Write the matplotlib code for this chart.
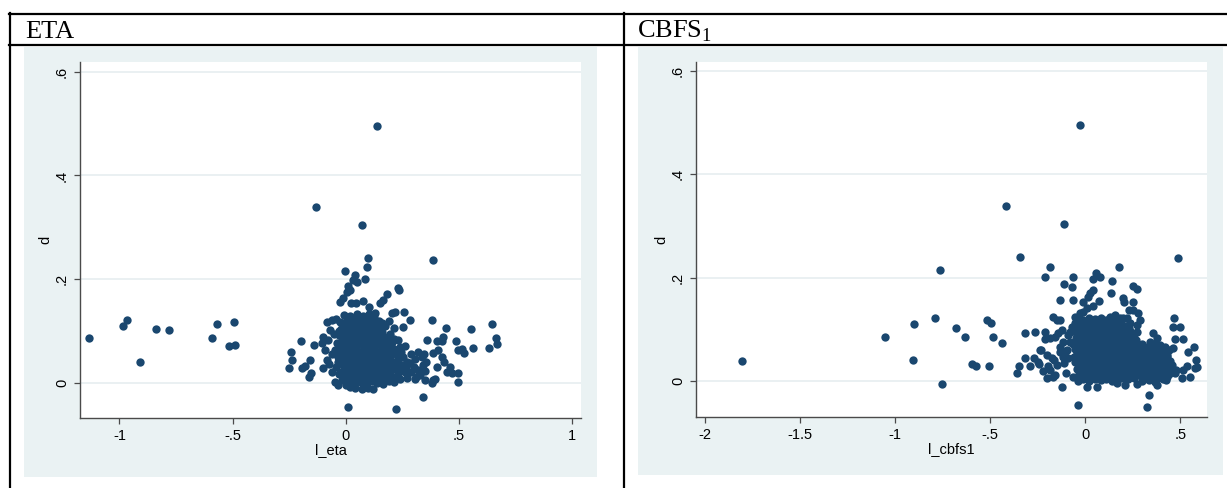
import numpy as np
import matplotlib
matplotlib.use("Agg")
import matplotlib.pyplot as plt
from matplotlib.lines import Line2D
from matplotlib.patches import Rectangle

# ---- data: (x, d) pairs ----
eta_far = [(-1.133, 0.086), (-0.982, 0.110), (-0.967, 0.121), (-0.911, 0.040),
           (-0.839, 0.104), (-0.783, 0.102), (-0.593, 0.086), (-0.567, 0.113),
           (-0.492, 0.118), (-0.518, 0.070), (-0.490, 0.072)]

eta_spread = [(0.137, 0.496), (-0.130, 0.340), (0.072, 0.304), (0.099, 0.240),
              (0.387, 0.237), (0.095, 0.223), (-0.004, 0.215), (0.041, 0.208),
              (0.051, 0.195), (0.033, 0.199), (0.083, 0.201), (0.011, 0.187),
              (0.019, 0.179), (0.004, 0.176), (-0.011, 0.163), (-0.026, 0.156),
              (0.023, 0.153), (0.045, 0.153), (0.077, 0.158), (0.104, 0.147),
              (0.129, 0.134), (0.166, 0.160), (0.183, 0.171), (0.151, 0.153),
              (0.217, 0.137), (0.203, 0.134), (0.229, 0.182), (0.235, 0.179),
              (0.257, 0.137), (0.284, 0.121), (0.251, 0.108), (0.213, 0.105),
              (0.381, 0.121), (0.443, 0.106), (0.552, 0.104), (0.646, 0.114),
              (0.663, 0.086), (0.666, 0.075), (0.634, 0.067), (0.563, 0.067),
              (0.522, 0.057), (0.512, 0.066), (0.494, 0.064), (0.487, 0.080),
              (0.431, 0.089), (0.424, 0.081), (0.401, 0.080), (0.357, 0.082),
              (0.409, 0.063), (0.384, 0.057), (0.424, 0.050), (0.434, 0.041),
              (0.401, 0.031), (0.460, 0.031), (0.446, 0.021), (0.468, 0.018),
              (0.497, 0.018), (0.497, 0.002), (0.394, 0.008), (0.379, -0.001),
              (0.387, 0.005), (0.342, -0.027), (0.222, -0.051), (0.011, -0.046),
              (0.306, 0.008), (0.350, 0.005), (0.239, 0.008), (0.269, 0.010),
              (0.254, 0.050), (0.269, 0.041), (0.247, 0.034), (0.232, 0.082),
              (0.239, 0.069), (0.210, 0.063),
              (-0.084, 0.118), (-0.062, 0.121), (-0.043, 0.124), (-0.070, 0.101),
              (-0.052, 0.095), (-0.199, 0.081), (-0.243, 0.060), (-0.239, 0.044),
              (-0.250, 0.028), (-0.140, 0.073), (-0.106, 0.076), (-0.099, 0.088),
              (-0.077, 0.082), (-0.158, 0.044), (-0.180, 0.032), (-0.195, 0.028),
              (-0.155, 0.018), (-0.161, 0.012), (-0.092, 0.063), (-0.084, 0.044),
              (-0.099, 0.028), (-0.048, 0.063), (-0.033, 0.050), (-0.040, 0.076),
              (-0.048, 0.002), (-0.033, -0.004), (-0.076, 0.037), (-0.060, 0.020),
              (-0.045, 0.030), (-0.062, 0.055),
              (0.290, 0.055), (0.305, 0.045), (0.320, 0.060), (0.335, 0.050),
              (0.300, 0.030), (0.318, 0.025), (0.340, 0.035), (0.355, 0.040),
              (0.290, 0.020), (0.330, 0.015), (0.350, 0.022), (0.285, 0.038),
              (0.310, 0.012), (0.345, 0.055),
              (0.150, 0.100), (0.165, 0.090), (0.180, 0.080), (0.195, 0.095),
              (0.160, 0.070), (0.175, 0.060), (0.190, 0.050), (0.205, 0.040),
              (0.220, 0.030), (0.235, 0.020), (0.150, 0.050), (0.165, 0.040),
              (0.180, 0.030), (0.195, 0.020), (0.210, 0.012), (0.150, 0.030),
              (0.165, 0.018), (0.180, 0.010), (0.150, 0.010), (0.200, 0.075),
              (0.215, 0.085), (0.225, 0.055), (0.250, 0.025), (0.265, 0.030),
              (0.145, 0.120), (0.160, 0.115), (0.175, 0.110), (0.190, 0.120),
              (0.150, 0.085), (0.140, 0.000), (0.165, -0.002), (0.120, -0.012),
              (0.100, -0.010), (0.070, -0.012), (0.040, -0.010), (0.020, -0.008),
              (0.000, -0.005), (-0.015, 0.005), (0.230, 0.045), (0.245, 0.060),
              (0.260, 0.070)]

eta_core = [(-0.010, 0.131), (0.020, 0.128), (0.048, 0.133), (0.076, 0.129), (0.101, 0.132), (0.124, 0.127),
            (-0.024, 0.117), (0.006, 0.120), (0.031, 0.116), (0.058, 0.119), (0.086, 0.121), (0.110, 0.115), (0.134, 0.118),
            (-0.019, 0.104), (0.011, 0.108), (0.039, 0.105), (0.066, 0.107), (0.091, 0.103), (0.117, 0.108), (0.141, 0.104),
            (-0.028, 0.093), (0.001, 0.096), (0.024, 0.092), (0.051, 0.095), (0.079, 0.097), (0.104, 0.091), (0.129, 0.095),
            (-0.017, 0.083), (0.013, 0.080), (0.037, 0.084), (0.063, 0.081), (0.092, 0.085), (0.117, 0.079), (0.143, 0.083),
            (-0.029, 0.069), (-0.002, 0.072), (0.022, 0.068), (0.047, 0.071), (0.074, 0.073), (0.101, 0.067), (0.127, 0.070),
            (-0.019, 0.059), (0.008, 0.056), (0.034, 0.060), (0.061, 0.057), (0.087, 0.059), (0.112, 0.055), (0.138, 0.058),
            (-0.024, 0.045), (0.003, 0.048), (0.027, 0.044), (0.053, 0.047), (0.080, 0.049), (0.106, 0.043), (0.131, 0.046),
            (-0.014, 0.035), (0.016, 0.032), (0.041, 0.036), (0.066, 0.033), (0.094, 0.035), (0.121, 0.031), (0.146, 0.034),
            (-0.021, 0.021), (0.004, 0.024), (0.029, 0.020), (0.057, 0.023), (0.083, 0.025), (0.109, 0.019), (0.134, 0.022),
            (-0.009, 0.011), (0.018, 0.008), (0.044, 0.012), (0.071, 0.009), (0.097, 0.011), (0.126, 0.007),
            (0.010, 0.001), (0.036, -0.002), (0.061, 0.002), (0.089, -0.001), (0.114, 0.003)]

eta_fill = [(0.005, 0.124), (0.034, 0.123), (0.062, 0.125), (0.089, 0.122), (0.113, 0.124),
            (-0.008, 0.111), (0.019, 0.113), (0.045, 0.110), (0.072, 0.112), (0.098, 0.114), (0.122, 0.110), (0.150, 0.108),
            (-0.032, 0.100), (-0.004, 0.099), (0.025, 0.101), (0.052, 0.098), (0.078, 0.100), (0.104, 0.102), (0.130, 0.099), (0.158, 0.097),
            (-0.006, 0.088), (0.019, 0.087), (0.044, 0.090), (0.071, 0.088), (0.098, 0.086), (0.122, 0.089), (0.160, 0.088), (0.185, 0.087),
            (-0.015, 0.076), (0.009, 0.077), (0.035, 0.075), (0.061, 0.078), (0.088, 0.076), (0.114, 0.074), (0.140, 0.076), (0.170, 0.074), (0.205, 0.078),
            (-0.035, 0.064), (-0.008, 0.063), (0.020, 0.065), (0.047, 0.062), (0.074, 0.064), (0.100, 0.066), (0.125, 0.063), (0.155, 0.062), (0.185, 0.065), (0.215, 0.066),
            (-0.010, 0.052), (0.016, 0.051), (0.041, 0.053), (0.068, 0.052), (0.094, 0.050), (0.119, 0.053), (0.145, 0.052), (0.170, 0.050), (0.200, 0.053), (0.240, 0.052),
            (-0.033, 0.040), (-0.006, 0.039), (0.022, 0.041), (0.048, 0.040), (0.073, 0.038), (0.099, 0.041), (0.125, 0.040), (0.158, 0.041), (0.188, 0.039), (0.218, 0.040),
            (-0.005, 0.028), (0.023, 0.027), (0.049, 0.029), (0.075, 0.028), (0.102, 0.026), (0.128, 0.029), (0.155, 0.028), (0.172, 0.024), (0.205, 0.027), (0.228, 0.024), (0.262, 0.020),
            (-0.028, 0.016), (0.004, 0.015), (0.033, 0.017), (0.061, 0.016), (0.089, 0.014), (0.116, 0.017), (0.142, 0.016), (0.172, 0.015), (0.198, 0.014), (0.225, 0.012),
            (-0.002, 0.005), (0.027, 0.004), (0.054, 0.006), (0.080, 0.004), (0.105, 0.006), (0.132, 0.004), (0.158, 0.006), (0.190, 0.003), (0.215, 0.002)]

cbfs_far = [(-1.808, 0.039), (-1.051, 0.086), (-0.900, 0.110), (-0.908, 0.041),
            (-0.788, 0.121), (-0.765, 0.215), (-0.753, -0.005), (-0.682, 0.103),
            (-0.635, 0.086), (-0.594, 0.032), (-0.574, 0.028), (-0.515, 0.118),
            (-0.498, 0.113), (-0.486, 0.085), (-0.507, 0.029), (-0.437, 0.073),
            (-0.417, 0.339)]

cbfs_spread = [(-0.112, 0.304), (-0.028, 0.495), (-0.344, 0.239), (0.488, 0.237),
               (-0.187, 0.221), (-0.211, 0.202), (0.176, 0.221), (-0.066, 0.202),
               (-0.113, 0.187), (-0.071, 0.181), (0.057, 0.208), (0.078, 0.202),
               (0.039, 0.197), (0.143, 0.194), (0.253, 0.184), (0.271, 0.177),
               (0.039, 0.175), (0.025, 0.170), (0.013, 0.163), (0.134, 0.170),
               (-0.133, 0.157), (-0.063, 0.157), (-0.010, 0.152), (0.074, 0.154),
               (0.197, 0.160), (0.204, 0.152), (0.250, 0.153), (0.043, 0.145),
               (0.008, 0.141), (0.232, 0.137), (0.250, 0.137), (0.280, 0.131),
               (-0.027, 0.131), (-0.054, 0.124), (-0.010, 0.134), (-0.168, 0.124),
               (-0.150, 0.118), (-0.133, 0.118), (0.288, 0.118), (0.271, 0.108),
               (0.271, 0.095), (0.157, 0.128), (0.131, 0.124), (0.183, 0.121),
               (0.222, 0.121), (0.236, 0.112), (0.209, 0.105), (0.467, 0.121),
               (0.460, 0.105), (0.499, 0.105), (-0.212, 0.095), (-0.212, 0.081),
               (-0.185, 0.083), (-0.159, 0.085), (-0.141, 0.092), (-0.124, 0.099),
               (-0.080, 0.095), (-0.071, 0.105), (-0.054, 0.112), (-0.036, 0.115),
               (-0.115, 0.076), (-0.097, 0.060), (-0.133, 0.057), (-0.118, 0.047),
               (-0.238, 0.060), (-0.203, 0.050), (-0.176, 0.044), (-0.164, 0.041),
               (-0.194, 0.028), (-0.159, 0.012), (-0.185, 0.021), (-0.124, -0.011),
               (-0.036, -0.046), (0.337, -0.027), (0.327, -0.050), (0.358, 0.092),
               (0.376, 0.083), (0.341, 0.076), (0.464, 0.063), (0.473, 0.081),
               (0.513, 0.081), (0.539, 0.057), (0.574, 0.065), (0.583, 0.041),
               (0.590, 0.027), (0.534, 0.028), (0.516, 0.021), (0.552, 0.008),
               (0.578, 0.025), (0.508, 0.005), (0.478, 0.021), (0.420, 0.063),
               (0.429, 0.047), (0.411, 0.041), (0.455, 0.031), (0.473, 0.015),
               (0.425, 0.002), (0.376, -0.008), (0.271, -0.005), (0.209, -0.008),
               (0.166, -0.003), (0.060, -0.011), (0.008, -0.011), (-0.063, 0.008),
               (-0.036, -0.001),
               (-0.319, 0.092), (-0.266, 0.095), (-0.317, 0.044), (-0.360, 0.016),
               (-0.349, 0.029), (-0.293, 0.028), (-0.268, 0.044), (-0.248, 0.037),
               (-0.234, 0.060), (-0.242, 0.033), (-0.220, 0.020), (-0.200, 0.005),
               (-0.170, 0.007), (-0.150, 0.030), (-0.130, 0.065), (-0.105, 0.057),
               (-0.110, 0.035), (-0.100, 0.015), (-0.090, 0.045), (-0.080, 0.075),
               (-0.090, 0.088)]

cbfs_core = [(-0.040, 0.121), (-0.010, 0.118), (0.021, 0.122), (0.049, 0.119), (0.081, 0.121), (0.111, 0.117), (0.139, 0.120), (0.171, 0.118), (0.199, 0.122),
             (-0.055, 0.107), (-0.024, 0.110), (0.006, 0.106), (0.034, 0.109), (0.066, 0.107), (0.094, 0.110), (0.126, 0.106), (0.154, 0.108), (0.186, 0.110), (0.214, 0.106),
             (-0.061, 0.097), (-0.029, 0.095), (0.001, 0.098), (0.031, 0.094), (0.059, 0.097), (0.091, 0.095), (0.119, 0.098), (0.151, 0.094), (0.179, 0.096), (0.211, 0.098), (0.239, 0.095),
             (-0.049, 0.083), (-0.021, 0.086), (0.011, 0.082), (0.039, 0.085), (0.071, 0.083), (0.099, 0.086), (0.131, 0.082), (0.159, 0.084), (0.191, 0.086), (0.219, 0.082), (0.251, 0.085),
             (-0.064, 0.071), (-0.036, 0.074), (-0.004, 0.070), (0.024, 0.073), (0.056, 0.071), (0.084, 0.074), (0.116, 0.070), (0.144, 0.072), (0.176, 0.074), (0.204, 0.070), (0.236, 0.073), (0.264, 0.071),
             (-0.056, 0.061), (-0.024, 0.058), (0.004, 0.062), (0.036, 0.059), (0.064, 0.061), (0.096, 0.058), (0.124, 0.062), (0.156, 0.059), (0.184, 0.061), (0.216, 0.058), (0.244, 0.062), (0.276, 0.059),
             (-0.059, 0.047), (-0.031, 0.050), (0.001, 0.046), (0.029, 0.049), (0.061, 0.047), (0.089, 0.050), (0.121, 0.046), (0.149, 0.048), (0.181, 0.050), (0.209, 0.046), (0.241, 0.049), (0.269, 0.047),
             (-0.051, 0.037), (-0.019, 0.034), (0.009, 0.038), (0.041, 0.035), (0.069, 0.037), (0.101, 0.034), (0.129, 0.038), (0.161, 0.035), (0.189, 0.037), (0.221, 0.034), (0.249, 0.038),
             (-0.044, 0.023), (-0.016, 0.026), (0.016, 0.022), (0.044, 0.025), (0.076, 0.023), (0.104, 0.026), (0.136, 0.022), (0.164, 0.024), (0.196, 0.026), (0.224, 0.022), (0.256, 0.025),
             (-0.031, 0.013), (0.001, 0.010), (0.029, 0.014), (0.061, 0.011), (0.089, 0.013), (0.121, 0.010), (0.149, 0.014), (0.181, 0.011), (0.209, 0.013), (0.241, 0.010),
             (-0.010, 0.003), (0.021, 0.000), (0.049, 0.004), (0.081, 0.001), (0.109, 0.003), (0.141, 0.000), (0.169, 0.002),
             (0.301, 0.071), (0.334, 0.068), (0.366, 0.072), (0.394, 0.069),
             (0.289, 0.057), (0.321, 0.060), (0.349, 0.056), (0.381, 0.059), (0.409, 0.057), (0.441, 0.060),
             (0.301, 0.045), (0.329, 0.048), (0.361, 0.044), (0.389, 0.047), (0.421, 0.045),
             (0.286, 0.035), (0.314, 0.032), (0.346, 0.036), (0.374, 0.033), (0.406, 0.035), (0.434, 0.032),
             (0.294, 0.021), (0.326, 0.024), (0.354, 0.020), (0.386, 0.023), (0.414, 0.021), (0.446, 0.024),
             (0.279, 0.011), (0.311, 0.008), (0.339, 0.012), (0.371, 0.009), (0.399, 0.011), (0.431, 0.008),
             (0.301, -0.001), (0.334, 0.002), (0.366, -0.002)]

cbfs_fill = [(-0.025, 0.114), (0.006, 0.115), (0.036, 0.113), (0.066, 0.116), (0.096, 0.114), (0.126, 0.113), (0.156, 0.115), (0.186, 0.113),
             (-0.040, 0.102), (-0.010, 0.101), (0.019, 0.103), (0.049, 0.102), (0.079, 0.100), (0.109, 0.103), (0.139, 0.101), (0.169, 0.102), (0.199, 0.100), (0.229, 0.102),
             (-0.045, 0.090), (-0.014, 0.089), (0.016, 0.091), (0.046, 0.090), (0.076, 0.088), (0.106, 0.091), (0.136, 0.089), (0.166, 0.090), (0.196, 0.092), (0.226, 0.089), (0.256, 0.091),
             (-0.035, 0.078), (-0.005, 0.079), (0.025, 0.077), (0.055, 0.078), (0.085, 0.080), (0.115, 0.077), (0.145, 0.078), (0.175, 0.079), (0.205, 0.077), (0.235, 0.078), (0.265, 0.080),
             (-0.040, 0.066), (-0.010, 0.065), (0.020, 0.067), (0.050, 0.066), (0.080, 0.064), (0.110, 0.067), (0.140, 0.065), (0.170, 0.066), (0.200, 0.068), (0.230, 0.065), (0.260, 0.066), (0.290, 0.064),
             (-0.045, 0.054), (-0.015, 0.053), (0.015, 0.055), (0.045, 0.054), (0.075, 0.052), (0.105, 0.055), (0.135, 0.053), (0.165, 0.054), (0.195, 0.056), (0.225, 0.053), (0.255, 0.054), (0.285, 0.052),
             (-0.035, 0.042), (-0.005, 0.041), (0.025, 0.043), (0.055, 0.042), (0.085, 0.040), (0.115, 0.043), (0.145, 0.041), (0.175, 0.042), (0.205, 0.044), (0.235, 0.041), (0.265, 0.042),
             (-0.030, 0.030), (0.000, 0.029), (0.030, 0.031), (0.060, 0.030), (0.090, 0.028), (0.120, 0.031), (0.150, 0.029), (0.180, 0.030), (0.210, 0.032), (0.240, 0.029), (0.270, 0.028),
             (-0.015, 0.018), (0.015, 0.017), (0.045, 0.019), (0.075, 0.018), (0.105, 0.016), (0.135, 0.019), (0.165, 0.017), (0.195, 0.018), (0.225, 0.016), (0.260, 0.017),
             (0.005, 0.007), (0.035, 0.006), (0.065, 0.008), (0.095, 0.007), (0.125, 0.005), (0.155, 0.008), (0.195, 0.006), (0.225, 0.004), (0.255, 0.006),
             (0.315, 0.064), (0.350, 0.065), (0.380, 0.063), (0.420, 0.066),
             (0.305, 0.052), (0.335, 0.051), (0.365, 0.053), (0.395, 0.052), (0.428, 0.051),
             (0.298, 0.040), (0.330, 0.041), (0.360, 0.039), (0.390, 0.040), (0.420, 0.041), (0.445, 0.039),
             (0.310, 0.028), (0.340, 0.027), (0.370, 0.029), (0.400, 0.028), (0.430, 0.027),
             (0.295, 0.016), (0.325, 0.015), (0.355, 0.017), (0.385, 0.016), (0.415, 0.015), (0.440, 0.014),
             (0.320, 0.005), (0.350, 0.004), (0.385, 0.006), (0.410, 0.004)]

panels = [
    dict(title="ETA", xlabel="l_eta", pts=eta_far + eta_spread + eta_core + eta_fill,
         xlim=(-1.174, 1.039), ylim=(-0.068, 0.619),
         xticks=[-1, -0.5, 0, 0.5, 1], xtl=["-1", "-.5", "0", ".5", "1"],
         pos=[80, 62, 581, 418], bg=[24, 47, 597, 477], tx=25),
    dict(title=r"CBFS$_\mathregular{1}$", xlabel="l_cbfs1",
         pts=cbfs_far + cbfs_spread + cbfs_core + cbfs_fill,
         xlim=(-2.048, 0.641), ylim=(-0.0697, 0.617),
         xticks=[-2, -1.5, -1, -0.5, 0, 0.5], xtl=["-2", "-1.5", "-1", "-.5", "0", ".5"],
         pos=[696, 62, 1207, 417], bg=[638, 47, 1223, 475], tx=637),
]

W, H = 1227, 488
plt.rcParams['font.family'] = 'Liberation Sans'
plt.rcParams['mathtext.fontset'] = 'custom'
plt.rcParams['mathtext.rm'] = 'Liberation Serif'

fig = plt.figure(figsize=(W / 100, H / 100), dpi=100)
fig.patch.set_facecolor('white')

navy = '#1A476F'
axcol = '#4a4a4a'
gridcol = '#E6EEF0'

def fx(p):
    return p / W

def fy(p):
    return 1 - p / H

for p in panels:
    x0, y0, x1, y1 = p['bg']
    fig.add_artist(Rectangle((fx(x0), fy(y1)), fx(x1 - x0), (y1 - y0) / H,
                             transform=fig.transFigure, facecolor='#EAF2F3',
                             edgecolor='none', zorder=0))
    l, t, r, b = p['pos']
    ax = fig.add_axes([fx(l), fy(b), fx(r - l), (b - t) / H])
    ax.set_facecolor('white')
    pts = np.array(p['pts'])
    ax.scatter(pts[:, 0], pts[:, 1], s=36, color=navy, linewidths=0, zorder=3)
    ax.set_xlim(*p['xlim'])
    ax.set_ylim(*p['ylim'])
    ax.set_xticks(p['xticks'])
    ax.set_xticklabels(p['xtl'])
    ax.set_yticks([0, 0.2, 0.4, 0.6])
    ax.set_yticklabels(["0", ".2", ".4", ".6"], rotation=90, va='center')
    ax.grid(axis='y', color=gridcol, linewidth=1.2, zorder=1)
    ax.set_axisbelow(True)
    for s in ['top', 'right']:
        ax.spines[s].set_visible(False)
    for s in ['left', 'bottom']:
        ax.spines[s].set_color(axcol)
        ax.spines[s].set_linewidth(1.0)
    ax.tick_params(direction='out', length=4.5, width=0.9, color=axcol,
                   labelsize=10.5, labelcolor='black', pad=3.5)
    ax.set_xlabel(p['xlabel'], fontsize=10.5, labelpad=0)
    ax.set_ylabel("d", fontsize=10.5, labelpad=2)
    fig.text(fx(p['tx']), fy(38), p['title'], fontsize=19,
             family='Liberation Serif', ha='left', va='baseline')

# table lines
lw = 1.6
for yy in [14, 45]:
    fig.add_artist(Line2D([fx(9), 1.0], [fy(yy), fy(yy)], transform=fig.transFigure,
                          color='black', linewidth=lw))
for xx in [10, 624]:
    fig.add_artist(Line2D([fx(xx), fx(xx)], [fy(13), 0.0], transform=fig.transFigure,
                          color='black', linewidth=lw))

fig.savefig('out.png', dpi=100)
